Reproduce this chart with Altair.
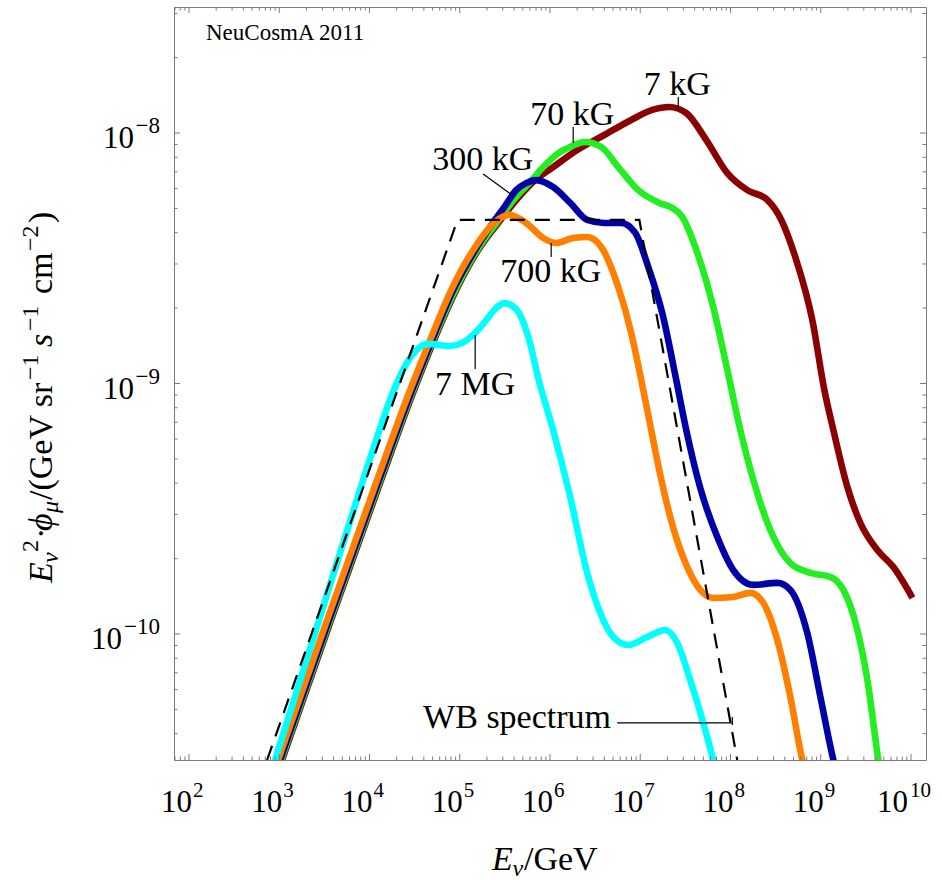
import altair as alt
import pandas as pd

# ------------- values -------------
# energies: log10(E_nu / GeV); fluxes: log10(E_nu^2 phi_mu / (GeV sr^-1 s^-1 cm^-2))

kG7_logE = [2.942, 3.031, 3.574, 4.129, 4.494, 4.716, 4.960, 5.204, 5.426, 5.647,
            5.836, 6.035, 6.302, 6.601, 6.900, 7.133, 7.322, 7.510, 7.732, 7.965,
            8.186, 8.408, 8.563, 8.718, 8.907, 9.040, 9.140, 9.295, 9.439, 9.627,
            9.805, 10.016]
kG7_logF = [-10.595, -10.503, -9.944, -9.385, -9.026, -8.826, -8.627, -8.467, -8.359, -8.259,
            -8.188, -8.136, -8.068, -8.008, -7.948, -7.908, -7.896, -7.920, -8.028, -8.160,
            -8.228, -8.267, -8.347, -8.495, -8.747, -9.026, -9.186, -9.413, -9.557, -9.665,
            -9.733, -9.856]

kG70_logE = [2.931, 3.020, 3.563, 4.118, 4.483, 4.705, 4.949, 5.193, 5.415, 5.625,
             5.780, 5.925, 6.113, 6.246, 6.379, 6.568, 6.756, 6.978, 7.211, 7.355,
             7.466, 7.621, 7.809, 7.965, 8.109, 8.253, 8.441, 8.663, 8.885, 9.106,
             9.251, 9.406, 9.517, 9.639, 9.661]
kG70_logF = [-10.595, -10.503, -9.944, -9.385, -9.026, -8.826, -8.627, -8.467, -8.355, -8.255,
             -8.196, -8.136, -8.076, -8.052, -8.036, -8.056, -8.136, -8.228, -8.279, -8.299,
             -8.335, -8.467, -8.695, -8.946, -9.186, -9.385, -9.585, -9.717, -9.756, -9.772,
             -9.824, -9.984, -10.184, -10.503, -10.551]

kG300_logE = [2.920, 3.009, 3.552, 4.106, 4.472, 4.694, 4.927, 5.171, 5.359, 5.503,
              5.625, 5.736, 5.847, 6.035, 6.224, 6.412, 6.601, 6.789, 6.945, 7.089,
              7.244, 7.399, 7.510, 7.665, 7.854, 8.031, 8.253, 8.519, 8.663, 8.851,
              8.996, 9.140, 9.173]
kG300_logF = [-10.595, -10.503, -9.944, -9.385, -9.026, -8.826, -8.627, -8.467, -8.363, -8.291,
              -8.228, -8.200, -8.188, -8.216, -8.279, -8.347, -8.359, -8.359, -8.399, -8.535,
              -8.719, -8.986, -9.186, -9.417, -9.613, -9.745, -9.804, -9.796, -9.824, -9.996,
              -10.251, -10.503, -10.551]

kG700_logE = [2.898, 2.987, 3.530, 4.084, 4.450, 4.672, 4.905, 5.171, 5.392, 5.548,
              5.736, 5.925, 6.069, 6.257, 6.412, 6.568, 6.756, 6.900, 7.000, 7.089,
              7.222, 7.366, 7.521, 7.665, 7.809, 8.031, 8.220, 8.364, 8.519, 8.663,
              8.796, 8.829]
kG700_logF = [-10.595, -10.503, -9.944, -9.385, -9.026, -8.826, -8.627, -8.455, -8.355, -8.327,
              -8.359, -8.419, -8.439, -8.419, -8.415, -8.455, -8.615, -8.798, -8.966, -9.126,
              -9.365, -9.577, -9.733, -9.824, -9.856, -9.852, -9.836, -9.876, -10.024, -10.251,
              -10.503, -10.551]

MG7_logE = [2.872, 2.953, 3.441, 3.929, 4.073, 4.206, 4.339, 4.483, 4.639, 4.894,
            5.027, 5.160, 5.293, 5.404, 5.492, 5.625, 5.769, 5.869, 6.035, 6.224,
            6.412, 6.557, 6.701, 6.867, 7.078, 7.277, 7.410, 7.554, 7.698, 7.809, 7.843]
MG7_logF = [-10.595, -10.503, -9.944, -9.385, -9.226, -9.086, -8.970, -8.882, -8.842, -8.850,
            -8.838, -8.802, -8.747, -8.699, -8.679, -8.703, -8.826, -8.978, -9.186, -9.453,
            -9.756, -9.916, -10.012, -10.044, -10.012, -9.984, -10.036, -10.184, -10.355, -10.503,
            -10.551]

wb_logE = [2.865, 4.975, 6.990, 8.075]
wb_logF = [-10.503, -8.347, -8.347, -10.503]

curve_labels = ["7 kG", "70 kG", "300 kG", "700 kG", "7 MG"]
curve_label_logE = [7.410, 6.246, 5.254, 6.008, 5.171]
curve_label_logF = [-7.848, -7.968, -8.148, -8.595, -9.046]

leader_logE1 = [7.421, 6.257, 5.259, 6.013, 5.171, 6.745, 8.020]
leader_logF1 = [-7.856, -7.976, -8.164, -8.439, -8.806, -10.355, -10.331]
leader_logE2 = [7.421, 6.257, 5.581, 6.013, 5.171, 8.020, 8.020]
leader_logF2 = [-7.904, -8.040, -8.248, -8.495, -8.942, -10.355, -10.363]

wb_label = "WB spectrum"
wb_label_logE, wb_label_logF = 4.594, -10.375
credit_label = "NeuCosmA 2011"
credit_logE, credit_logF = 2.188, -7.629

x_tick_exponents = [2, 3, 4, 5, 6, 7, 8, 9, 10]
y_tick_exponents = [-10, -9, -8]

# ------------- layout -------------
W, H = 752, 753
X_DOMAIN = [10 ** 1.8337, 10 ** 10.1663]
Y_DOMAIN = [10 ** -10.503, 10 ** -7.497]
SERIF = "Liberation Serif, DejaVu Serif, serif"
FRAME = "#7a7a7a"

xs = alt.Scale(type="log", domain=X_DOMAIN, nice=False)
ys = alt.Scale(type="log", domain=Y_DOMAIN, nice=False)
X = alt.X("E:Q", scale=xs, axis=None)
Y = alt.Y("F:Q", scale=ys, axis=None)


def pts(logE, logF):
    return pd.DataFrame({"E": [10 ** v for v in logE], "F": [10 ** v for v in logF]})


one = pd.DataFrame({"k": [0]})
layers = []

# curves (drawing order as in the reference)
for logE, logF, col in [
    (kG7_logE, kG7_logF, "#8b0000"),
    (kG70_logE, kG70_logF, "#22ee22"),
    (kG300_logE, kG300_logF, "#0000a8"),
    (kG700_logE, kG700_logF, "#ff8000"),
    (MG7_logE, MG7_logF, "#00ffff"),
]:
    layers.append(
        alt.Chart(pts(logE, logF)).mark_line(
            color=col, strokeWidth=6.6, interpolate="monotone", clip=True
        ).encode(x=X, y=Y)
    )

layers.append(
    alt.Chart(pts(wb_logE, wb_logF)).mark_line(
        color="black", strokeWidth=2.2, strokeDash=[15, 10], clip=True
    ).encode(x=X, y=Y)
)

# leaders
lead = pd.DataFrame({
    "E": [10 ** v for v in leader_logE1], "F": [10 ** v for v in leader_logF1],
    "E2": [10 ** v for v in leader_logE2], "F2": [10 ** v for v in leader_logF2],
})
layers.append(
    alt.Chart(lead).mark_rule(color="black", strokeWidth=1.2).encode(
        x=X, y=Y, x2="E2:Q", y2="F2:Q"
    )
)

# curve labels
lab = pts(curve_label_logE, curve_label_logF)
lab["t"] = curve_labels
layers.append(
    alt.Chart(lab).mark_text(font=SERIF, fontSize=34, align="center",
                             baseline="alphabetic", color="black").encode(x=X, y=Y, text="t:N")
)
wb = pts([wb_label_logE], [wb_label_logF])
wb["t"] = [wb_label]
layers.append(
    alt.Chart(wb).mark_text(font=SERIF, fontSize=34, align="left",
                            baseline="alphabetic", color="black").encode(x=X, y=Y, text="t:N")
)
cr = pts([credit_logE], [credit_logF])
cr["t"] = [credit_label]
layers.append(
    alt.Chart(cr).mark_text(font=SERIF, fontSize=23, align="left",
                            baseline="alphabetic", color="black").encode(x=X, y=Y, text="t:N")
)

# frame ticks (inward, on all four sides)
x_major = [10.0 ** n for n in x_tick_exponents]
x_minor = [k * 10.0 ** n for n in range(1, 11) for k in range(2, 10)
           if X_DOMAIN[0] <= k * 10.0 ** n <= X_DOMAIN[1]]
y_major = [10.0 ** n for n in y_tick_exponents]
y_minor = [k * 10.0 ** n for n in range(-11, -7) for k in range(2, 10)
           if Y_DOMAIN[0] <= k * 10.0 ** n <= Y_DOMAIN[1]]

for vals, L in [(x_major, 6), (x_minor, 3.5)]:
    d = pd.DataFrame({"E": vals})
    layers.append(alt.Chart(d).mark_rule(color=FRAME, strokeWidth=1).encode(
        x=X, y=alt.value(H), y2=alt.value(H - L)))
    layers.append(alt.Chart(d).mark_rule(color=FRAME, strokeWidth=1).encode(
        x=X, y=alt.value(0), y2=alt.value(L)))
for vals, L in [(y_major, 6), (y_minor, 3.5)]:
    d = pd.DataFrame({"F": vals})
    layers.append(alt.Chart(d).mark_rule(color=FRAME, strokeWidth=1).encode(
        y=Y, x=alt.value(0), x2=alt.value(L)))
    layers.append(alt.Chart(d).mark_rule(color=FRAME, strokeWidth=1).encode(
        y=Y, x=alt.value(W), x2=alt.value(W - L)))

# x tick labels: 10 with superscript exponent
for exps, base_dx, sup_dx in [([e for e in x_tick_exponents if e < 10], 3, 4),
                              ([e for e in x_tick_exponents if e >= 10], -3, -1)]:
    d = pd.DataFrame({"E": [10.0 ** e for e in exps], "b": ["10"] * len(exps),
                      "s": [str(e) for e in exps]})
    layers.append(alt.Chart(d).mark_text(font=SERIF, fontSize=31, align="right",
                                         baseline="alphabetic", dx=base_dx, color="black").encode(
        x=X, y=alt.value(H + 52), text="b:N"))
    layers.append(alt.Chart(d).mark_text(font=SERIF, fontSize=21, align="left",
                                         baseline="alphabetic", dx=sup_dx, color="black").encode(
        x=X, y=alt.value(H + 37), text="s:N"))

# y tick labels
for e in y_tick_exponents:
    d = pd.DataFrame({"F": [10.0 ** e], "b": ["10"], "s": ["\u2212" + str(-e)]})
    base_x = -40 if -e < 10 else -52
    layers.append(alt.Chart(d).mark_text(font=SERIF, fontSize=31, align="right",
                                         baseline="alphabetic", dy=15, color="black").encode(
        y=Y, x=alt.value(base_x), text="b:N"))
    layers.append(alt.Chart(d).mark_text(font=SERIF, fontSize=23, align="right",
                                         baseline="alphabetic", dy=0, color="black").encode(
        y=Y, x=alt.value(-14), text="s:N"))

# x axis title: E_nu / GeV
for txt, fs, style, x0, dy in [("E", 34, "italic", 318, 0), ("\u03bd", 24, "italic", 338.5, 6),
                               ("/GeV", 34, "normal", 350, 0)]:
    layers.append(alt.Chart(one).mark_text(text=txt, font=SERIF, fontSize=fs, fontStyle=style,
                                           align="left", baseline="alphabetic", dy=dy,
                                           color="black").encode(
        x=alt.value(x0), y=alt.value(H + 110)))

# y axis title (rotated, reading upward)
ytitle = [("E", 34, "italic", 0, 0), ("\u03bd", 24, "italic", 20, 6), ("2", 24, "normal", 31, -14),
          ("\u00b7", 34, "normal", 44, 0), ("\u03d5", 34, "italic", 52, 0),
          ("\u03bc", 24, "italic", 70, 6), ("/(GeV sr", 34, "normal", 83, 0),
          ("\u22121", 24, "normal", 203, -14), ("s", 34, "italic", 236, 0),
          ("\u22121", 24, "normal", 252, -14), ("cm", 34, "normal", 289, 0),
          ("\u22122", 24, "normal", 332, -14), (")", 34, "normal", 360, 0)]
for txt, fs, style, off, dy in ytitle:
    layers.append(alt.Chart(one).mark_text(text=txt, font=SERIF, fontSize=fs, fontStyle=style,
                                           angle=270, align="left", baseline="alphabetic",
                                           dx=off, dy=dy, color="black").encode(
        x=alt.value(-122), y=alt.value(576)))

chart = alt.layer(*layers).properties(
    width=W, height=H,
    padding={"left": 174, "top": 7, "right": 16, "bottom": 120},
    autosize=alt.AutoSizeParams(type="none"),
    background="white",
).configure_view(stroke=FRAME, strokeWidth=1)

chart.save("out.html", embed_options={"renderer": "svg", "actions": False})
